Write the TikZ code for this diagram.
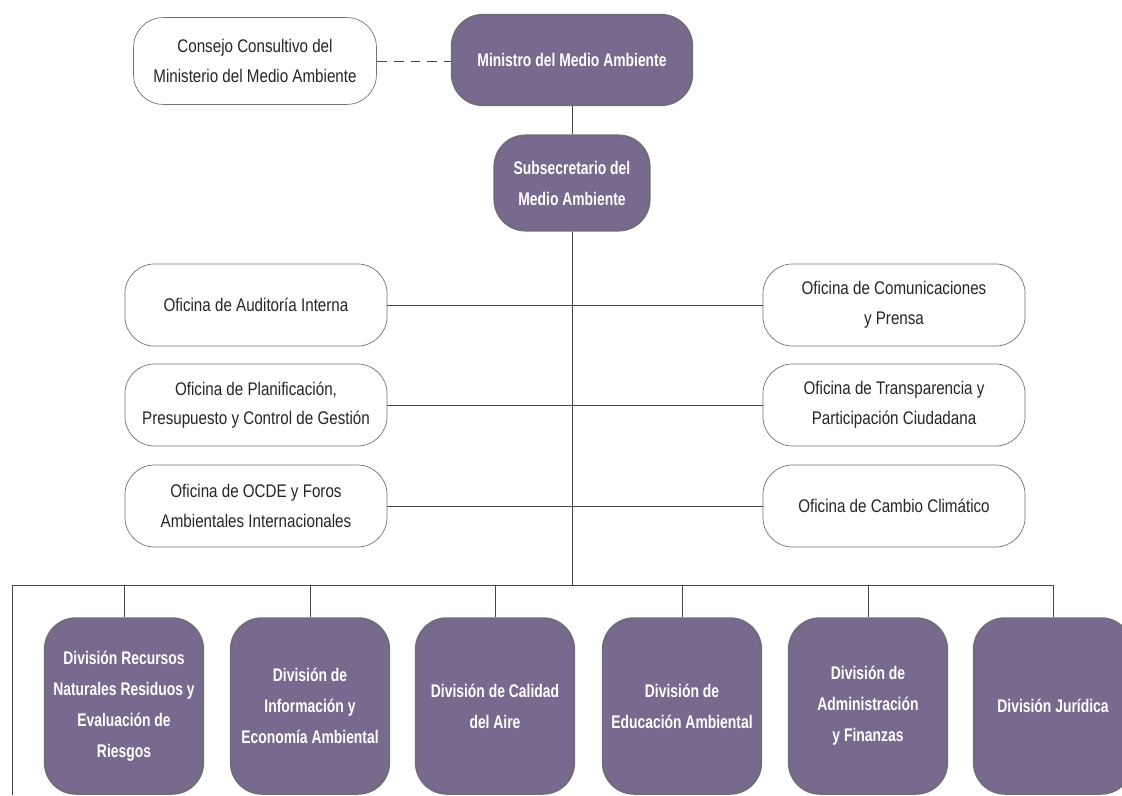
\documentclass[tikz,border=0pt]{standalone}
\usepackage{fontspec}
\setmainfont{Liberation Sans}[FakeStretch=0.83]
\newfontfamily\divfont{Liberation Sans}[FakeStretch=0.76]
\usetikzlibrary{positioning,calc}
\definecolor{mmapurple}{RGB}{120,106,142}
\definecolor{mmaedge}{RGB}{112,108,124}
\definecolor{mmaline}{RGB}{70,70,70}

\begin{document}
\begin{tikzpicture}[x=0.025cm, y=-0.025cm,
    office/.style={draw=black!55, line width=0.5pt, fill=white, rounded corners=21pt,
        minimum width=6.55cm, minimum height=2.05cm, align=center, text=black!85,
        font={\fontsize{13}{21}\selectfont}},
    chief/.style={draw=mmaedge, line width=1.6pt, fill=mmapurple, rounded corners=22pt,
        align=center, text=white, font={\divfont\bfseries\fontsize{13}{22}\selectfont}},
    link/.style={draw=mmaline, line width=0.6pt}]

    % Page
    \useasboundingbox (0,0) rectangle (1122,795);
    \clip (0,0) rectangle (1122,795);
    \fill[white] (0,0) rectangle (1122,795);

    % Top of the chart
    \node[office, minimum width=6.07cm, minimum height=2.17cm] (consejo) at (255,61) {Consejo Consultivo del\\Ministerio del Medio Ambiente};
    \node[chief, minimum width=6cm, minimum height=2.25cm] (ministro) at (572,60) {Ministro del Medio Ambiente};
    \node[chief, minimum width=3.87cm, minimum height=2.37cm] (subse) at (572,183) {Subsecretario del\\Medio Ambiente};

    \draw[link, dash pattern=on 7pt off 5pt] (consejo.east) -- (consejo.east -| ministro.west);
    \draw[link] (ministro.south) -- (subse.north);

    % Bus to the divisions
    \coordinate (busL) at (12,585);
    \coordinate (offL) at (12,795);
    \draw[link] (subse.south) -- (subse.south |- busL);

    % Offices, left column
    \foreach \name/\y/\txt in {aud/305/{Oficina de Auditoría Interna}, plan/405/{Oficina de Planificación,\\Presupuesto y Control de Gestión}, ocde/506/{Oficina de OCDE y Foros\\Ambientales Internacionales}} {
        \node[office] (\name) at (256,\y) {\txt};
        \draw[link] (\name.east) -- (\name.east -| subse.south);
    }

    % Offices, right column
    \foreach \name/\y/\txt in {com/305/{Oficina de Comunicaciones\\y Prensa}, trans/405/{Oficina de Transparencia y\\Participación Ciudadana}, cambio/506/{Oficina de Cambio Climático}} {
        \node[office] (\name) at (894,\y) {\txt};
        \draw[link] (\name.west) -- (\name.west -| subse.south);
    }

    % Divisions
    \foreach \name/\x/\txt in {rec/124/{División Recursos\\Naturales Residuos y\\Evaluación de\\Riesgos}, info/310/{División de\\Información y\\Economía Ambiental}, aire/495/{División de Calidad\\del Aire}, edu/682/{División de\\Educación Ambiental}, adm/868/{División de\\Administración\\y Finanzas}, jur/1053/{División Jurídica}} {
        \node[chief, minimum width=3.95cm, minimum height=4.38cm] (\name) at (\x,706) {\txt};
        \draw[link] (\name.north) -- (\name.north |- busL);
    }
    \draw[link] (offL) -- (busL) -- (busL -| jur.north);

\end{tikzpicture}
\end{document}
